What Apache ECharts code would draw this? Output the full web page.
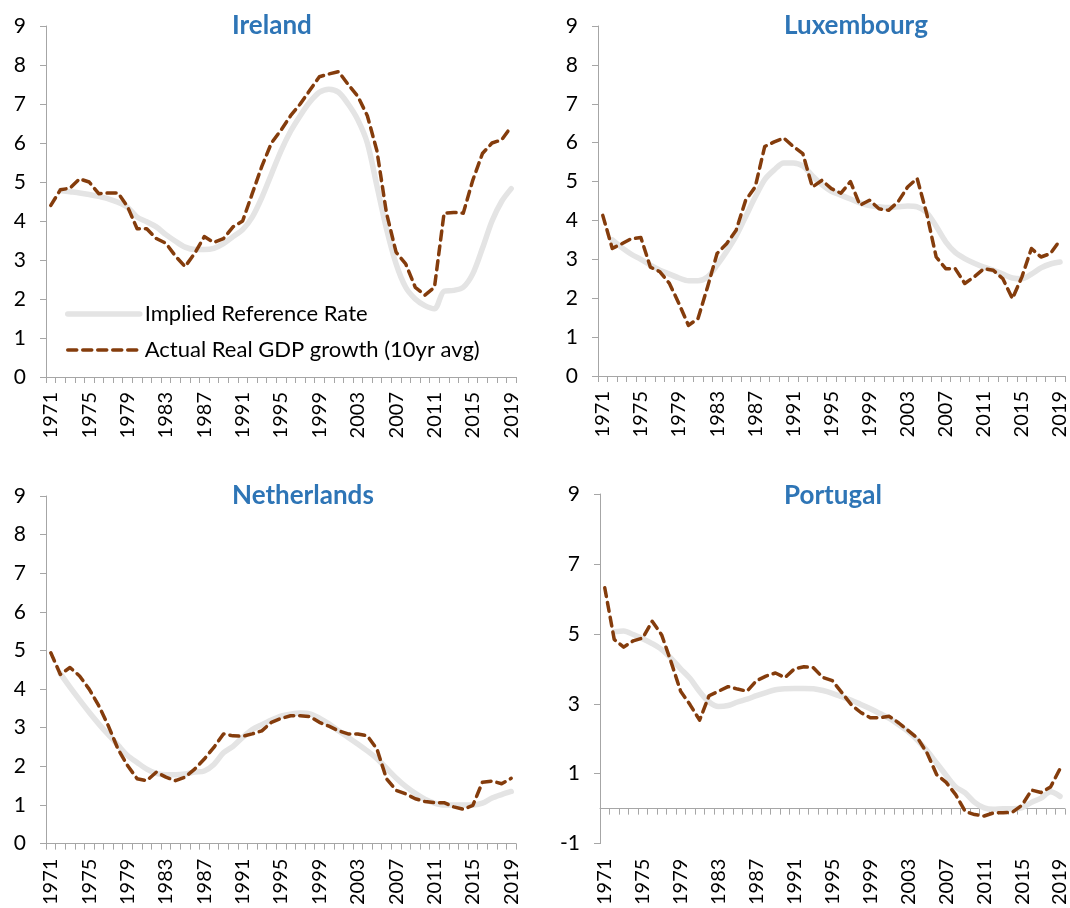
<!DOCTYPE html>
<html>
<head>
<meta charset="utf-8">
<script src="https://cdn.jsdelivr.net/npm/echarts@6/dist/echarts.min.js"></script>
<style>
html, body { margin: 0; padding: 0; background: #fff; }
#main { width: 1070px; height: 908px; }
</style>
</head>
<body>
<div id="main"></div>
<script>
// years on the category axis
var years = ['1971','1972','1973','1974','1975','1976','1977','1978','1979','1980',
  '1981','1982','1983','1984','1985','1986','1987','1988','1989','1990',
  '1991','1992','1993','1994','1995','1996','1997','1998','1999','2000',
  '2001','2002','2003','2004','2005','2006','2007','2008','2009','2010',
  '2011','2012','2013','2014','2015','2016','2017','2018','2019'];

var countries = ['Ireland', 'Luxembourg', 'Netherlands', 'Portugal'];

// Implied Reference Rate (grey)
var irlRef = [null,4.78,4.75,4.72,4.68,4.63,4.57,4.48,4.35,4.1,
  3.98,3.85,3.65,3.48,3.33,3.27,3.27,3.3,3.42,3.6,
  3.78,4.1,4.6,5.2,5.8,6.3,6.7,7.05,7.3,7.38,
  7.3,7.0,6.6,6.0,4.9,3.8,2.9,2.3,2.0,1.83,
  1.75,2.2,2.22,2.3,2.65,3.3,4.0,4.5,4.83];
var luxRef = [null,3.5,3.3,3.13,3.0,2.85,2.72,2.62,2.52,2.45,
  2.45,2.55,2.85,3.2,3.6,4.1,4.6,5.05,5.3,5.48,
  5.48,5.4,5.15,4.92,4.75,4.65,4.55,4.45,4.38,4.35,
  4.33,4.35,4.37,4.35,4.2,3.85,3.45,3.18,3.02,2.9,
  2.8,2.72,2.62,2.52,2.5,2.62,2.78,2.88,2.93];
var nldRef = [null,4.4,4.05,3.72,3.4,3.1,2.82,2.55,2.28,2.1,
  1.93,1.82,1.78,1.78,1.8,1.85,1.88,2.05,2.35,2.52,
  2.75,2.95,3.08,3.2,3.3,3.35,3.38,3.36,3.25,3.1,
  2.92,2.75,2.58,2.4,2.2,1.95,1.7,1.48,1.3,1.15,
  1.05,1.0,1.0,1.0,1.0,1.05,1.18,1.27,1.35];
var prtRef = [null,5.06,5.08,4.98,4.86,4.72,4.55,4.3,4.0,3.72,
  3.35,3.05,2.92,2.95,3.05,3.13,3.23,3.32,3.4,3.43,
  3.44,3.44,3.43,3.38,3.3,3.2,3.1,2.98,2.86,2.72,
  2.58,2.4,2.2,1.95,1.65,1.3,0.95,0.62,0.45,0.18,
  0.02,-0.02,0.0,0.0,0.03,0.18,0.3,0.48,0.35];

// Actual Real GDP growth, 10yr avg (dashed)
var irlGdp = [4.4,4.8,4.84,5.08,5.0,4.7,4.72,4.72,4.37,3.8,
  3.8,3.55,3.43,3.1,2.83,3.17,3.6,3.45,3.55,3.85,
  4.0,4.7,5.4,6.0,6.33,6.7,7.0,7.35,7.7,7.77,
  7.83,7.5,7.2,6.7,5.8,4.2,3.2,2.9,2.3,2.1,
  2.3,4.2,4.22,4.2,5.05,5.73,6.0,6.08,6.42];
var luxGdp = [4.13,3.28,3.4,3.53,3.56,2.8,2.68,2.38,1.86,1.3,
  1.48,2.29,3.15,3.4,3.75,4.52,4.86,5.9,6.02,6.12,
  5.9,5.72,4.86,5.03,4.82,4.7,5.0,4.39,4.52,4.3,
  4.26,4.48,4.86,5.08,4.18,3.06,2.76,2.76,2.38,2.55,
  2.76,2.72,2.5,1.99,2.55,3.28,3.06,3.15,3.49];
var nldGdp = [4.94,4.38,4.56,4.34,4.0,3.57,3.05,2.45,2.02,1.68,
  1.63,1.85,1.72,1.63,1.72,1.93,2.19,2.49,2.84,2.79,
  2.78,2.84,2.92,3.14,3.24,3.31,3.31,3.29,3.14,3.04,
  2.92,2.84,2.84,2.79,2.45,1.68,1.38,1.29,1.16,1.09,
  1.06,1.06,0.95,0.89,0.99,1.59,1.62,1.55,1.69];
var prtGdp = [6.32,4.84,4.62,4.8,4.88,5.36,4.97,4.19,3.36,2.97,
  2.53,3.23,3.36,3.49,3.42,3.36,3.66,3.79,3.88,3.75,
  4.0,4.06,4.03,3.75,3.66,3.32,2.97,2.75,2.6,2.6,
  2.64,2.45,2.23,2.01,1.58,0.97,0.75,0.4,-0.08,-0.17,
  -0.21,-0.12,-0.12,-0.1,0.1,0.53,0.46,0.62,1.14];

var refSets = [irlRef, luxRef, nldRef, prtRef];
var gdpSets = [irlGdp, luxGdp, nldGdp, prtGdp];

var yMin = [0, 0, 0, -1];
var yMax = [9, 9, 9, 9];
var yStep = [1, 1, 1, 2];

var refName = 'Implied Reference Rate';
var gdpName = 'Actual Real GDP growth (10yr avg)';

var FONT = 'Lato, "Open Sans", sans-serif';
var axisGrey = '#A6A6A6';
var refColor = '#E4E4E4';
var gdpColor = '#843C0C';
var gdpDash = [9, 6];

var grids = [
  {left: 46, top: 26, width: 470, height: 351},
  {left: 598, top: 26, width: 469, height: 350},
  {left: 46, top: 496, width: 470, height: 348},
  {left: 600, top: 494, width: 467, height: 385}
];
var titlePos = [[232, 13], [784, 13], [232, 483], [784, 483]];

var titles = [], xAxes = [], yAxes = [], series = [];
for (var i = 0; i < 4; i++) {
  titles.push({
    text: countries[i],
    left: titlePos[i][0],
    top: titlePos[i][1],
    padding: 0,
    textStyle: {fontFamily: FONT, fontSize: 26, fontWeight: 'bold', color: '#2E75B6'}
  });
  xAxes.push({
    gridIndex: i,
    type: 'category',
    data: years,
    boundaryGap: true,
    axisLine: {show: true, onZero: true, lineStyle: {color: axisGrey, width: 1}},
    axisTick: {show: true, interval: 0, length: 6, lineStyle: {color: axisGrey}},
    axisLabel: {interval: 3, rotate: 90, margin: 15, fontFamily: FONT, fontSize: 20, color: '#000'},
    splitLine: {show: false}
  });
  yAxes.push({
    gridIndex: i,
    type: 'value',
    min: yMin[i],
    max: yMax[i],
    interval: yStep[i],
    axisLine: {show: true, lineStyle: {color: axisGrey, width: 1}},
    axisTick: {show: true, length: 6, lineStyle: {color: axisGrey}},
    axisLabel: {margin: 20, fontFamily: FONT, fontSize: 21, color: '#000'},
    splitLine: {show: false}
  });
  series.push({
    name: refName,
    type: 'line',
    xAxisIndex: i,
    yAxisIndex: i,
    data: refSets[i],
    smooth: 0.3,
    symbol: 'none',
    lineStyle: {color: refColor, width: 5.5, cap: 'round', join: 'round'},
    itemStyle: {color: refColor},
    z: 2
  });
  series.push({
    name: gdpName,
    type: 'line',
    xAxisIndex: i,
    yAxisIndex: i,
    data: gdpSets[i],
    symbol: 'none',
    lineStyle: {color: gdpColor, width: 3.5, type: gdpDash, cap: 'round', join: 'round'},
    itemStyle: {color: gdpColor},
    z: 3
  });
}

var chart = echarts.init(document.getElementById('main'), null, {renderer: 'canvas'});
chart.setOption({
  animation: false,
  backgroundColor: '#fff',
  title: titles,
  legend: {
    orient: 'vertical',
    left: 65,
    top: 303,
    padding: 0,
    itemWidth: 72,
    itemHeight: 14,
    itemGap: 14,
    data: [
      {name: refName, itemStyle: {opacity: 0},
        lineStyle: {color: refColor, width: 5.5, cap: 'round'}},
      {name: gdpName, itemStyle: {opacity: 0},
        lineStyle: {color: gdpColor, width: 3.5, type: gdpDash, cap: 'round'}}
    ],
    textStyle: {fontFamily: FONT, fontSize: 22, lineHeight: 22, color: '#000'}
  },
  grid: grids,
  xAxis: xAxes,
  yAxis: yAxes,
  series: series
});
</script>
</body>
</html>
